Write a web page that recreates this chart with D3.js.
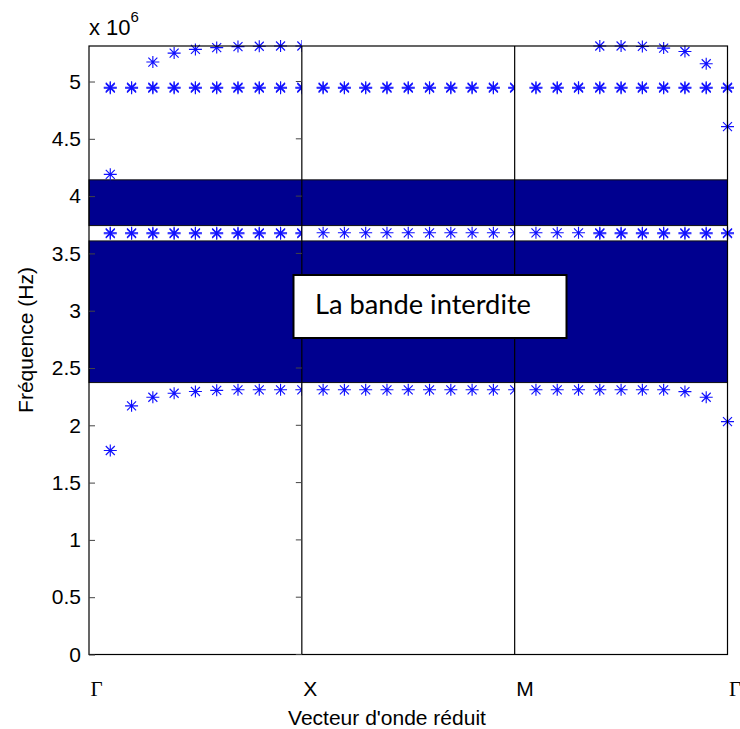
<!DOCTYPE html>
<html><head><meta charset="utf-8">
<script src="https://cdn.jsdelivr.net/npm/d3@7/dist/d3.min.js"></script>
<style>body{margin:0;background:#fff}svg{display:block}</style>
</head><body>
<svg id="c" width="740" height="729"></svg>
<script>
// ---- data (frequency in units of 10^6 Hz), point index 1..30 along Γ-X-M-Γ ----
const kIndex = d3.range(1, 31);
const bandLow  = [1.78,2.17,2.245,2.28,2.295,2.305,2.31,2.31,2.31,2.31,
                  2.31,2.31,2.31,2.31,2.31,2.31,2.31,2.31,2.31,2.31,
                  2.31,2.31,2.31,2.31,2.31,2.31,2.31,2.294,2.245,2.032];
const bandMid  = [3.68,3.68,3.68,3.68,3.68,3.68,3.68,3.68,3.68,3.68,
                  3.68,3.68,3.68,3.68,3.68,3.68,3.68,3.68,3.68,3.68,
                  3.68,3.68,3.68,3.68,3.68,3.68,3.68,3.68,3.68,3.68];
const bandMid2 = [3.672,3.672,3.672,3.672,3.672,3.672,3.672,3.672,3.672,3.672,
                  null,null,null,null,null,null,null,null,null,null,
                  null,null,null,3.672,3.672,3.672,3.672,3.672,3.672,3.672];
const bandHigh = [4.942,4.942,4.942,4.942,4.942,4.942,4.942,4.942,4.942,4.942,
                  4.942,4.942,4.942,4.942,4.942,4.942,4.942,4.942,4.942,4.942,
                  4.942,4.942,4.942,4.942,4.942,4.942,4.942,4.942,4.942,4.942];
const bandHigh2= [4.950,4.950,4.950,4.950,4.950,4.950,4.950,4.950,4.950,4.950,
                  4.950,4.950,4.950,4.950,4.950,4.950,4.950,4.950,4.950,4.950,
                  4.950,4.950,4.950,4.950,4.950,4.950,4.950,4.950,4.950,4.950];
const bandTop  = [4.19,null,5.17,5.248,5.28,5.296,5.305,5.308,5.31,5.31,
                  null,null,null,null,null,null,null,null,null,null,
                  null,null,null,5.31,5.31,5.306,5.292,5.262,5.155,4.607];
const gaps = [[3.743,4.142],[2.373,3.609]];
const yTicks = [0,0.5,1,1.5,2,2.5,3,3.5,4,4.5,5];
const xTicks = [0,10,20,30];
const xTickLabels = ["Γ","X","M","Γ"];
const segEnds = [10,20];
const yMax = 5.31;

// ---- layout ----
const svg = d3.select("#c");
const L=89, R=727.5, T=46, B=654.5;
const x = d3.scaleLinear().domain([0,30]).range([L,R]);
const y = d3.scaleLinear().domain([0,yMax]).range([B,T]);
const font = "'Liberation Sans', Arial, sans-serif";

// band gaps
svg.selectAll("rect.gap").data(gaps).join("rect").attr("class","gap")
  .attr("x",x(0)).attr("width",x(30)-x(0))
  .attr("y",d=>y(d[1])).attr("height",d=>y(d[0])-y(d[1]))
  .attr("fill","#00008f").attr("stroke","#111").attr("stroke-width",1);

// clip paths for segments (each segment drawn in its own axes)
const defs = svg.append("defs");
[0,10,20].forEach((s,k)=>{
  const xe = k<2 ? x(s+10) : 740;
  defs.append("clipPath").attr("id","seg"+k).append("rect")
    .attr("x",0).attr("y",0).attr("width",xe).attr("height",729);
});

const star = "M-6.5,0H6.5M0,-6V6M-4.5,-4.5L4.5,4.5M-4.5,4.5L4.5,-4.5";
const series = [bandLow,bandMid,bandMid2,bandHigh,bandHigh2,bandTop];
const pts = [];
series.forEach(s=>s.forEach((v,i)=>{ if(v!=null) pts.push({k:kIndex[i],v}); }));
[0,1,2].forEach(seg=>{
  const g = svg.append("g").attr("clip-path","url(#seg"+seg+")");
  g.selectAll("path").data(pts.filter(p=>Math.ceil(p.k/10)-1===seg)).join("path")
    .attr("d",star)
    .attr("transform",p=>`translate(${x(p.k)},${y(p.v)})`)
    .attr("fill","none").attr("stroke","#1010ff").attr("stroke-width",1.15);
});

// segment dividers
svg.selectAll("line.div").data(segEnds).join("line").attr("class","div")
  .attr("x1",d=>x(d)).attr("x2",d=>x(d)).attr("y1",T).attr("y2",B)
  .attr("stroke","#000").attr("stroke-width",1.2);

// box
svg.append("rect").attr("x",L).attr("y",T).attr("width",R-L).attr("height",B-T)
  .attr("fill","none").attr("stroke","#000").attr("stroke-width",1.2);

// y axis
const ya = svg.append("g").attr("transform",`translate(${L},0)`)
  .call(d3.axisLeft(y).tickValues(yTicks).tickSizeInner(-6).tickSizeOuter(0).tickPadding(8)
        .tickFormat(d=>String(d)));
ya.select(".domain").remove();
ya.selectAll("line").attr("stroke","#444");
ya.selectAll("text").attr("font-family",font).attr("font-size",21).attr("fill","#000");
// right-side ticks of first axes
svg.selectAll("line.rt").data(yTicks).join("line").attr("class","rt")
  .attr("x1",x(10)-6).attr("x2",x(10)).attr("y1",d=>y(d)).attr("y2",d=>y(d))
  .attr("stroke","#444");

// x axis labels
const xa = svg.append("g").attr("transform",`translate(0,${B})`)
  .call(d3.axisBottom(x).tickValues(xTicks).tickSize(0).tickPadding(0)
        .tickFormat((d,i)=>xTickLabels[i]));
xa.select(".domain").remove();
xa.selectAll("text").attr("text-anchor","start").attr("dx",1).attr("dy",0).attr("y",41)
  .attr("font-size",21).attr("fill","#000")
  .attr("font-family",(d,i)=> (i===0||i===3) ? "'Liberation Serif','Times New Roman',serif" : font);

// multiplier
const mt = svg.append("text").attr("x",L).attr("y",35).attr("font-family",font)
  .attr("font-size",22).attr("fill","#000");
mt.append("tspan").text("x 10");
mt.append("tspan").attr("dy",-13).attr("font-size",15).text("6");

// axis titles
svg.append("text").attr("x",387).attr("y",725).attr("text-anchor","middle")
  .attr("font-family",font).attr("font-size",21).text("Vecteur d'onde réduit");
svg.append("text").attr("transform","translate(33,340) rotate(-90)").attr("text-anchor","middle")
  .attr("font-family",font).attr("font-size",21).text("Fréquence (Hz)");

// annotation box
svg.append("rect").attr("x",293.5).attr("y",275).attr("width",273).attr("height",63)
  .attr("fill","#fff").attr("stroke","#000").attr("stroke-width",2);
svg.append("text").attr("x",315).attr("y",314).attr("font-family","Lato, 'Open Sans', sans-serif")
  .attr("font-size",26).attr("textLength",216).attr("lengthAdjust","spacingAndGlyphs")
  .attr("fill","#000").text("La bande interdite");
</script>
</body></html>
